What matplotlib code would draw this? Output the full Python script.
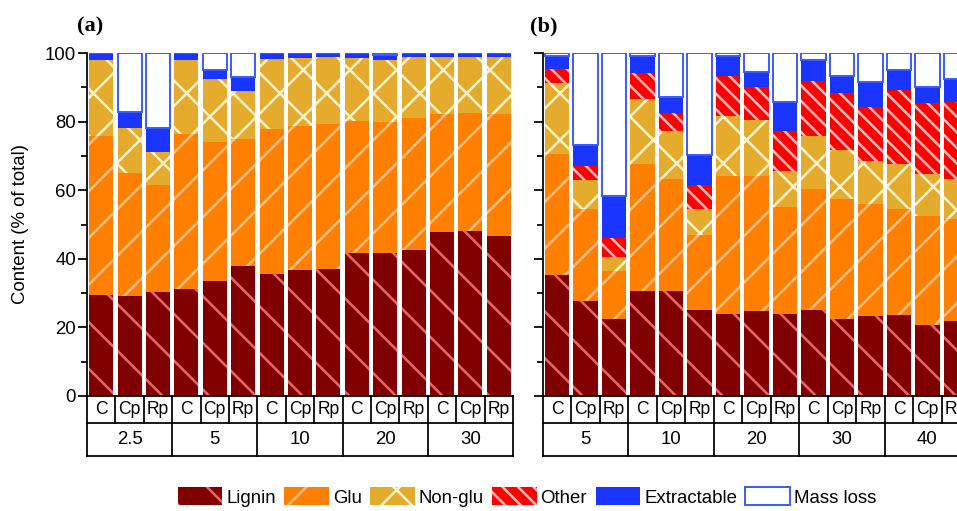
import matplotlib
matplotlib.use("Agg")
import matplotlib.pyplot as plt
from matplotlib.patches import Patch
from matplotlib.ticker import MultipleLocator
import numpy as np

# ── data (% of total) ─────────────────────────────────────────────────────────

TREATMENTS = ["C", "Cp", "Rp"]
GROUPS_A = ["2.5", "5", "10", "20", "30"]
GROUPS_B = ["5", "10", "20", "30", "40"]

A_LIGNIN  = [29.4, 29.2, 30.4, 31.1, 33.6, 37.9, 35.7, 36.7, 37.1, 41.8, 41.6, 42.6, 47.8, 48.1, 46.6]
A_GLU     = [46.4, 35.9, 31.1, 45.3, 40.5, 36.9, 42.1, 42.1, 42.2, 38.5, 38.2, 38.4, 34.4, 34.3, 35.5]
A_NONGLU  = [22.3, 13.1,  9.5, 21.7, 18.2, 14.2, 20.5, 19.8, 19.4, 18.1, 18.2, 17.7, 16.5, 16.3, 16.6]
A_OTHER   = [0.0] * 15
A_EXTRACT = [1.9,  4.5,  7.2,  1.9,  2.7,  3.9,  1.7,  1.4,  1.3,  1.6,  1.5,  1.3,  1.3,  1.3,  1.3]
A_MASSLOSS = [0.0, 17.3, 21.8, 0.0,  5.0,  7.1,  0.0,  0.0,  0.0,  0.0,  0.5,  0.0,  0.0,  0.0,  0.0]

B_LIGNIN  = [35.4, 27.8, 22.5, 30.7, 30.5, 25.2, 24.0, 24.9, 24.0, 25.0, 22.4, 23.3, 23.5, 20.8, 22.0]
B_GLU     = [35.2, 26.8, 14.0, 37.0, 32.8, 21.8, 40.0, 39.3, 31.0, 35.4, 35.1, 32.8, 31.1, 31.6, 29.7]
B_NONGLU  = [20.7,  8.3,  4.0, 19.0, 14.0,  7.5, 17.5, 16.2, 10.7, 15.3, 14.1, 12.5, 13.0, 12.4, 11.6]
B_OTHER   = [3.9,  4.3,  5.7,  7.6,  5.2,  6.9, 11.9,  9.7, 11.6, 16.0, 16.7, 15.8, 21.7, 20.6, 22.3]
B_EXTRACT = [3.9,  6.1, 12.2,  4.9,  4.7,  8.9,  5.8,  4.5,  8.3,  6.3,  4.9,  7.1,  5.8,  4.7,  6.9]
B_MASSLOSS = [0.9, 26.7, 41.6, 0.8, 12.8, 29.7,  0.8,  5.4, 14.4,  2.0,  6.8,  8.5,  4.9,  9.9,  7.5]

# ── style ─────────────────────────────────────────────────────────────────────

DPI = 140
FS = 9.6
plt.rcParams["font.family"] = ["Liberation Sans", "DejaVu Sans"]
plt.rcParams["hatch.linewidth"] = 1.3

# name, fill, hatch colour, hatch pattern
COMPONENTS = [
    ("Lignin",      "#800000", "#E8646E", "\\"),
    ("Glu",         "#FF8000", "#FFBE80", "/"),
    ("Non-glu",     "#E4AB2D", "#FFF2C8", "x"),
    ("Other",       "#FF0000", "#FFB8B8", "\\\\\\"),
    ("Extractable", "#1A35FF", "#1A35FF", None),
]
MASS_EDGE = "#3A5BFF"


def draw_panel(ax, parts, massloss, groups, show_labels):
    x = np.arange(len(massloss))
    bottom = np.zeros(len(x))
    for (name, fc, hc, hatch), vals in zip(COMPONENTS, parts):
        vals = np.asarray(vals)
        ax.bar(x, vals, width=0.85, bottom=bottom, color=fc, edgecolor=hc,
               linewidth=0, hatch=hatch, zorder=2)
        bottom += vals
    ax.bar(x, massloss, width=0.85, bottom=bottom, color="white",
           edgecolor=MASS_EDGE, linewidth=1.0, zorder=2)

    ax.set_xlim(-0.5, len(x) - 0.5)
    ax.set_ylim(0, 100)
    ax.set_xticks([])
    for side in ("top", "right", "bottom"):
        ax.spines[side].set_visible(False)
    ax.spines["left"].set_linewidth(0.9)
    ax.yaxis.set_major_locator(MultipleLocator(20))
    ax.yaxis.set_minor_locator(MultipleLocator(10))
    ax.tick_params(axis="y", which="major", length=4.6, width=0.9,
                   labelsize=FS, pad=1, direction="out")
    ax.tick_params(axis="y", which="minor", length=2.9, width=0.9, direction="out")
    if not show_labels:
        ax.tick_params(axis="y", labelleft=False)

    # category table under the bars
    tr = ax.get_xaxis_transform()
    r1, r2 = 0.080, 0.095
    lk = dict(color="black", lw=0.9, transform=tr, clip_on=False, zorder=3)
    x0, x1 = -0.5, len(x) - 0.5
    for yy in (0, -r1, -(r1 + r2)):
        ax.plot([x0, x1], [yy, yy], **lk)
    for k in range(len(x) + 1):
        ax.plot([x0 + k, x0 + k], [0, -r1], **lk)
    for k in range(len(groups) + 1):
        ax.plot([x0 + 3 * k, x0 + 3 * k], [-r1, -(r1 + r2)], **lk)
    for i in x:
        ax.text(i, -r1 / 2, TREATMENTS[i % 3], transform=tr, ha="center",
                va="center", fontsize=FS - 0.6, clip_on=False)
    for g, lab in enumerate(groups):
        ax.text(3 * g + 1, -r1 - r2 / 2, lab, transform=tr, ha="center",
                va="center", fontsize=FS, clip_on=False)


fig = plt.figure(figsize=(957 / DPI, 511 / DPI), dpi=DPI, facecolor="white")
ax_a = fig.add_axes([87 / 957, 1 - 396 / 511, 426 / 957, 343 / 511])
ax_b = fig.add_axes([542.7 / 957, 1 - 396 / 511, 427.5 / 957, 343 / 511])

draw_panel(ax_a, [A_LIGNIN, A_GLU, A_NONGLU, A_OTHER, A_EXTRACT], A_MASSLOSS,
           GROUPS_A, True)
draw_panel(ax_b, [B_LIGNIN, B_GLU, B_NONGLU, B_OTHER, B_EXTRACT], B_MASSLOSS,
           GROUPS_B, False)

ax_a.set_ylabel("Content (% of total)", fontsize=FS, labelpad=8)

fig.text(77 / 957, 1 - 26 / 511, "(a)", fontsize=11.5, fontweight="bold",
         family="Liberation Serif", ha="left", va="center")
fig.text(530 / 957, 1 - 26 / 511, "(b)", fontsize=11.5, fontweight="bold",
         family="Liberation Serif", ha="left", va="center")

handles = [Patch(facecolor=fc, edgecolor=hc, linewidth=0, hatch=h, label=n)
           for n, fc, hc, h in COMPONENTS]
handles.append(Patch(facecolor="white", edgecolor=MASS_EDGE, linewidth=1.0,
                     label="Mass loss"))
fig.legend(handles=handles, loc="center", bbox_to_anchor=(527 / 957, 1 - 497 / 511),
           ncol=6, frameon=False, fontsize=FS, handlelength=2.4, handleheight=1.05,
           handletextpad=0.2, columnspacing=0.45, borderaxespad=0, borderpad=0)

fig.savefig("out.png", dpi=DPI, facecolor="white")
